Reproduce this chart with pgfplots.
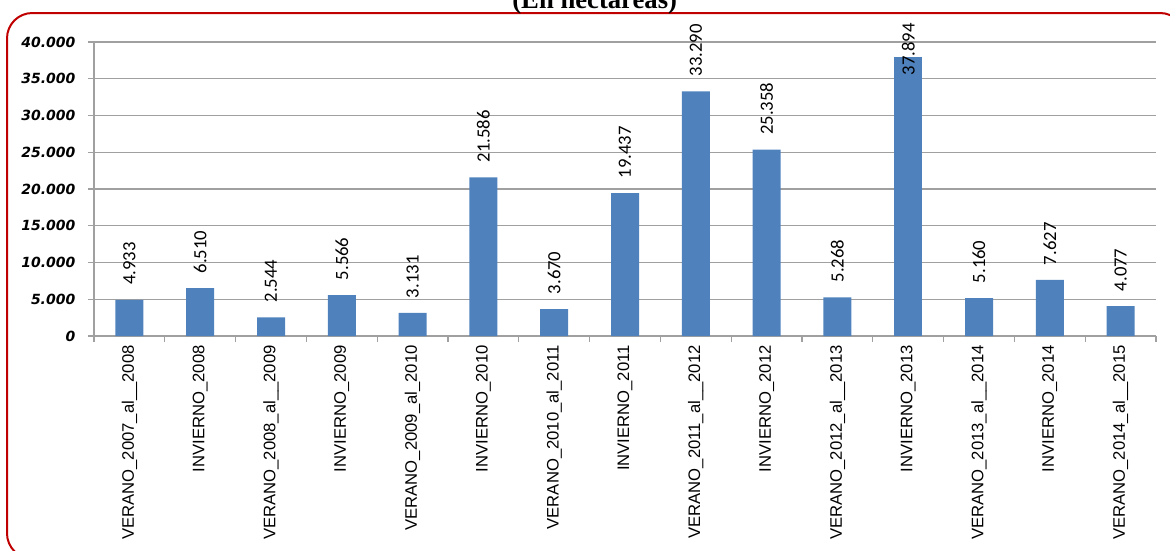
\documentclass[border=0pt]{standalone}
\usepackage{pgfplots}
\pgfplotsset{compat=1.18}
\usepackage{fontspec}
\setmainfont{Liberation Sans}
\newfontfamily\valfont{Carlito}
\newfontfamily\ytickfont{DejaVu Sans}
\newfontfamily\titlefont{Liberation Serif}

\definecolor{barblue}{RGB}{79,129,189}
\definecolor{gridgray}{RGB}{160,160,160}
\definecolor{framered}{RGB}{192,0,0}

% Superficie por temporada (hectareas)
\pgfplotstableread{
idx  area
0    4933
1    6510
2    2544
3    5566
4    3131
5    21586
6    3670
7    19437
8    33290
9    25358
10   5268
12   5160
13   7627
14   4077
}\areas
\pgfplotstableread{
idx  area
11   37894
}\areatop

\begin{document}
\begin{tikzpicture}
% page: 1170 x 550 units of 0.75pt
\useasboundingbox (0,0) rectangle (877.5pt,-412.5pt);
\draw[framered, line width=1.5pt, rounded corners=19pt]
  (5.25pt,-9.75pt) rectangle (889pt,-419pt);
\node[anchor=base, font=\titlefont\bfseries\fontsize{20}{24}\selectfont]
  at (446pt,-6.5pt) {(En hectáreas)};

\begin{axis}[
  at={(70.5pt,-252pt)}, anchor=south west,
  scale only axis, width=796.5pt, height=220.5pt,
  xmin=-0.5, xmax=14.5, ymin=0, ymax=40000,
  scaled y ticks=false,
  axis x line*=bottom, axis y line*=left,
  axis line style={gridgray, line width=0.9pt},
  tick align=outside, major tick length=4.5pt,
  tick style={gridgray, line width=0.9pt},
  ymajorgrids, grid style={gridgray, line width=0.9pt},
  ytick={0,5000,...,40000},
  yticklabels={0,5.000,10.000,15.000,20.000,25.000,30.000,35.000,40.000},
  yticklabel style={font=\ytickfont\bfseries\itshape\fontsize{10.5}{12}\selectfont, xshift=-6pt},
  xtick={-0.5,0.5,...,14.5}, xticklabels={},
  extra x ticks={0,1,...,14},
  extra x tick style={major tick length=0pt, grid=none},
  extra x tick labels={VERANO\_2007\_al\_\_2008, INVIERNO\_2008, VERANO\_2008\_al\_\_2009,
    INVIERNO\_2009, VERANO\_2009\_al\_2010, INVIERNO\_2010, VERANO\_2010\_al\_2011,
    INVIERNO\_2011, VERANO\_2011\_al\_\_2012, INVIERNO\_2012, VERANO\_2012\_al\_\_2013,
    INVIERNO\_2013, VERANO\_2013\_al\_\_2014, INVIERNO\_2014, VERANO\_2014\_al\_\_2015},
  xticklabel style={rotate=90, anchor=east, inner sep=0pt, xshift=-6.75pt,
    font=\fontsize{12.5}{14}\selectfont},
  ybar, bar width=21pt, bar shift=0pt,
  clip=false,
  nodes near coords={\pgfmathprintnumber[fixed, precision=0, 1000 sep={.}, assume math mode=true]{\pgfplotspointmeta}},
  every node near coord/.append style={font=\valfont\fontsize{14}{16}\selectfont,
    rotate=90, anchor=west, inner sep=0pt, black},
]
\addplot[fill=barblue, draw=none,
  every node near coord/.append style={xshift=11pt}]
  table[x=idx, y=area] {\areas};
\addplot[fill=barblue, draw=none,
  every node near coord/.append style={xshift=-13.5pt}]
  table[x=idx, y=area] {\areatop};
\end{axis}
\end{tikzpicture}
\end{document}
